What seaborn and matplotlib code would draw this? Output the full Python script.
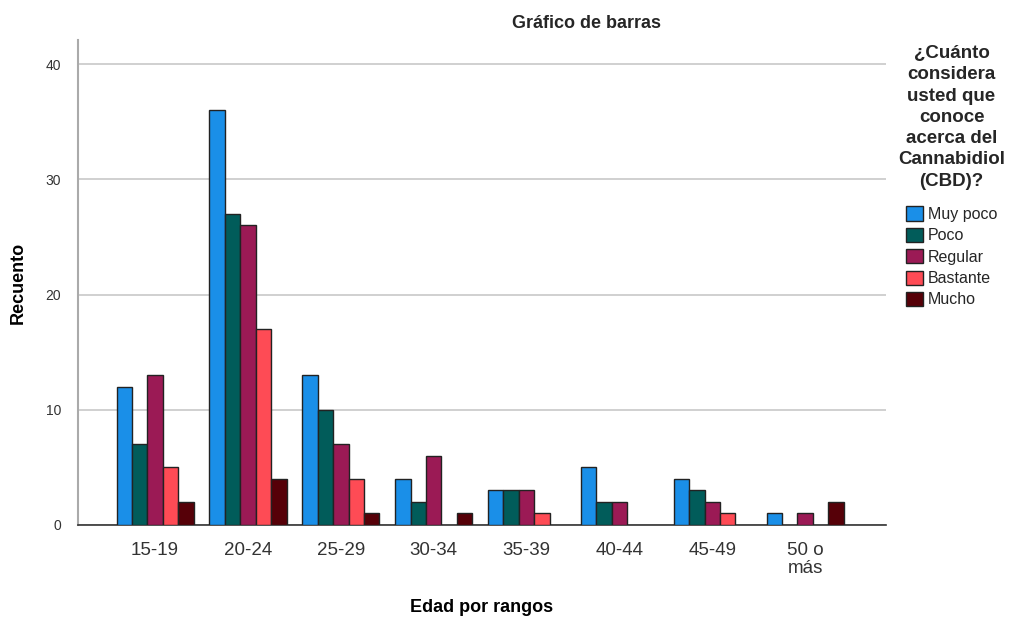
import matplotlib
matplotlib.use("Agg")
import matplotlib.pyplot as plt
import seaborn as sns
import pandas as pd

categories = ["15-19", "20-24", "25-29", "30-34", "35-39", "40-44", "45-49", "50 o\nmás"]
levels = ["Muy poco", "Poco", "Regular", "Bastante", "Mucho"]
muy_poco = [12, 36, 13, 4, 3, 5, 4, 1]
poco = [7, 27, 10, 2, 3, 2, 3, 0]
regular = [13, 26, 7, 6, 3, 2, 2, 1]
bastante = [5, 17, 4, 0, 1, 0, 1, 0]
mucho = [2, 4, 1, 1, 0, 0, 0, 2]
colors = ["#1a8fe8", "#015c5a", "#9b1a55", "#fe4b55", "#560008"]

rows = []
for lvl, vals in zip(levels, [muy_poco, poco, regular, bastante, mucho]):
    for c, v in zip(categories, vals):
        rows.append({"Edad": c, "Nivel": lvl, "Recuento": v})
df = pd.DataFrame(rows)
df_plot = df[df["Recuento"] > 0]

sns.set_theme(style="white")
plt.rcParams["font.family"] = ["Liberation Sans", "DejaVu Sans"]

fig = plt.figure(figsize=(10.29, 6.19), dpi=100)
ax = fig.add_axes([78/1029, 1-525/619, (886-78)/1029, (525-40)/619])

sns.barplot(data=df_plot, x="Edad", y="Recuento", hue="Nivel", order=categories,
            hue_order=levels, palette=colors, saturation=1, width=0.83,
            edgecolor="#222222", linewidth=1.0, ax=ax, legend=True, zorder=3)

ax.set_xlim(-0.83, 7.87)
ax.set_ylim(0, 42.1)
ax.set_yticks([0, 10, 20, 30, 40])
ax.yaxis.grid(True, color="#c8c8c8", linewidth=1.2, zorder=0)
ax.set_axisbelow(True)
for s in ["top", "right"]:
    ax.spines[s].set_visible(False)
ax.spines["left"].set_color("#aaaaaa")
ax.spines["left"].set_linewidth(1.5)
ax.spines["bottom"].set_color("#333333")
ax.spines["bottom"].set_linewidth(1.2)
ax.tick_params(axis="y", labelsize=10, colors="#333333", length=0, pad=12)
ax.tick_params(axis="x", labelsize=13.5, colors="#333333", length=0, pad=12)
for t in ax.get_xticklabels():
    t.set_linespacing(1.1)
ax.set_xlabel("Edad por rangos", fontsize=13, fontweight="bold", labelpad=16, color="black")
ax.set_ylabel("Recuento", fontsize=13, fontweight="bold", labelpad=14, color="black")

fig.text(587/1029, 1-24/619, "Gráfico de barras", ha="center", va="center",
         fontsize=13, fontweight="bold")

leg = ax.legend(title="¿Cuánto\nconsidera\nusted que\nconoce\nacerca del\nCannabidiol\n(CBD)?",
                loc="upper left", bbox_to_anchor=(898/1029, 1-45/619),
                bbox_transform=fig.transFigure, frameon=False, fontsize=11.5,
                handlelength=1.1, handleheight=1.0, handletextpad=0.3,
                labelspacing=0.36, borderpad=0, borderaxespad=0)
leg.get_title().set_fontsize(13.5)
leg.get_title().set_fontweight("bold")
leg.get_title().set_multialignment("center")
leg.get_title().set_linespacing(1.33)
leg._legend_box.align = "center"
leg._legend_box.sep = 12
for h in leg.legend_handles:
    h.set_edgecolor("#222222")

fig.savefig("out.png", dpi=100)
